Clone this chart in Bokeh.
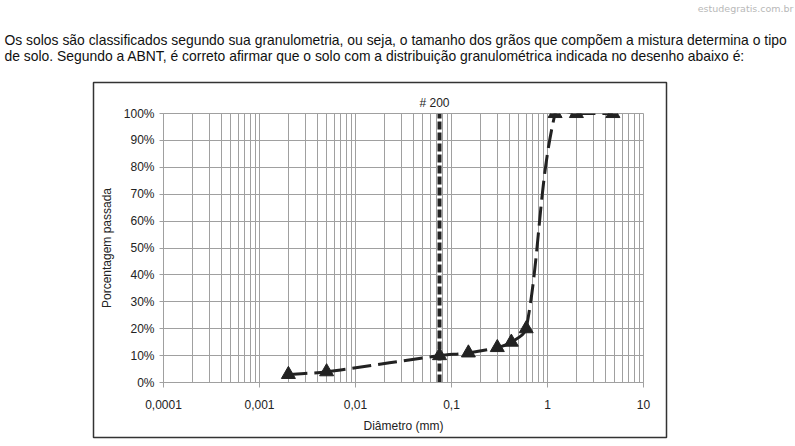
import numpy as np
from bokeh.plotting import figure
from bokeh.layouts import column
from bokeh.models import Range1d, FixedTicker, PrintfTickFormatter
from bokeh.core.properties import value
from bokeh.embed import file_html
from bokeh.resources import INLINE

# ---- data ----
diameter_mm = [0.002, 0.005, 0.075, 0.15, 0.3, 0.42, 0.6, 1.2, 2.0, 4.8]
percent_passing = [3, 4, 10, 11, 13, 15, 20, 100, 100, 100]
sieve_200_mm = 0.075
sieve_200_label = "# 200"
x_ticks = [0.0001, 0.001, 0.01, 0.1, 1, 10]
x_tick_labels = ["0,0001", "0,001", "0,01", "0,1", "1", "10"]
y_ticks = [0, 10, 20, 30, 40, 50, 60, 70, 80, 90, 100]
x_title = "Diâmetro (mm)"
y_title = "Porcentagem passada"
question_lines = [
    "Os solos são classificados segundo sua granulometria, ou seja, o tamanho dos grãos que compõem a mistura determina o tipo",
    "de solo. Segundo a ABNT, é correto afirmar que o solo com a distribuição granulométrica indicada no desenho abaixo é:",
]
watermark = "estudegratis.com.br"

# ---- layout (page pixels) ----
W, H = 795, 446
BOX_L, BOX_R, BOX_T, BOX_B = 93, 666, 82, 437
FL, FR, FT, FB = 163, 643, 113, 382
FONT = "Liberation Sans"
GRID = "#a0a0a0"
INK = "#222222"

# background figure: question text, watermark, chart box
bg = figure(width=W, height=H, x_range=Range1d(0, W), y_range=Range1d(H, 0),
            output_backend="svg", toolbar_location=None, min_border=0,
            x_axis_location=None, y_axis_location=None, frame_align=False)
bg.grid.visible = False
bg.outline_line_color = None
bg.text(x=[4, 4], y=[39, 55], text=question_lines, text_font=value(FONT),
        text_font_size="13.9px", text_color="#111111", text_baseline="middle", text_align="left")
bg.text(x=[793], y=[8], text=[watermark], text_font=value("DejaVu Sans"),
        text_font_size="9.5px", text_color="#b8b8b8", text_baseline="middle", text_align="right")
bg.quad(left=[BOX_L], right=[BOX_R], top=[BOX_T], bottom=[BOX_B],
        fill_color=None, line_color="#333333", line_width=1.5)

# chart figure, overlapping the box
p = figure(width=BOX_R - BOX_L, height=BOX_B - BOX_T, x_axis_type="log",
           x_range=(x_ticks[0], x_ticks[-1]), y_range=(y_ticks[0], y_ticks[-1]),
           output_backend="svg", toolbar_location=None, frame_align=False,
           min_border_left=FL - BOX_L, min_border_right=BOX_R - FR,
           min_border_top=FT - BOX_T, min_border_bottom=BOX_B - FB,
           margin=(BOX_T - H, 0, 0, BOX_L))
p.border_fill_color = None
p.background_fill_color = "white"
p.outline_line_color = GRID

minor = [m * t for t in x_ticks[:-1] for m in range(2, 10)]
p.xaxis.ticker = FixedTicker(ticks=x_ticks, minor_ticks=minor)
p.xaxis.major_label_overrides = {t: s for t, s in zip(x_ticks, x_tick_labels)}
p.yaxis.ticker = FixedTicker(ticks=y_ticks)
p.yaxis.formatter = PrintfTickFormatter(format="%d%%")

for ax in (p.xaxis, p.yaxis):
    ax.axis_line_color = GRID
    ax.major_tick_line_color = GRID
    ax.minor_tick_line_color = None
    ax.major_tick_in = 0
    ax.major_label_text_font = FONT
    ax.major_label_text_font_size = "12px"
    ax.major_label_text_color = INK
    ax.axis_label_text_font = FONT
    ax.axis_label_text_font_size = "12px"
    ax.axis_label_text_font_style = "normal"
    ax.axis_label_text_color = INK
p.xaxis.major_tick_out = 5
p.xaxis.major_label_standoff = 12
p.xaxis.axis_label = x_title
p.xaxis.axis_label_standoff = 7
p.yaxis.major_tick_out = 4
p.yaxis.major_label_standoff = 5
p.yaxis.axis_label = y_title
p.yaxis.axis_label_standoff = 7

p.xgrid.grid_line_color = GRID
p.xgrid.minor_grid_line_color = GRID
p.ygrid.grid_line_color = GRID

# "# 200" label as the chart title, placed over the sieve line
ppd = (FR - FL) / (np.log10(x_ticks[-1]) - np.log10(x_ticks[0]))
ppp = (FB - FT) / (y_ticks[-1] - y_ticks[0])
LABEL_HALF_W = 16
p.title.text = sieve_200_label
p.title.align = "left"
p.title.offset = float((np.log10(sieve_200_mm) - np.log10(x_ticks[0])) * ppd - 4 - LABEL_HALF_W)
p.title.text_font = FONT
p.title.text_font_size = "12px"
p.title.text_font_style = "normal"
p.title.text_color = INK
p.title.standoff = 7

# #200 sieve line
p.segment(x0=[sieve_200_mm], y0=[y_ticks[0]], x1=[sieve_200_mm], y1=[y_ticks[-1]],
          line_color="white", line_width=4)
p.segment(x0=[sieve_200_mm], y0=[y_ticks[0]], x1=[sieve_200_mm], y1=[y_ticks[-1]],
          line_color=INK, line_width=4, line_dash="8 3")

# smoothed curve through the points (bezier in screen-proportional space)
P = np.column_stack([np.log10(diameter_mm) * ppd, np.array(percent_passing, float) * ppp])
n = len(P)
T = []
for i in range(n):
    d = P[min(i + 1, n - 1)] - P[max(i - 1, 0)]
    T.append(d / np.linalg.norm(d))
seg = dict(x0=[], y0=[], x1=[], y1=[], cx0=[], cy0=[], cx1=[], cy1=[])
for i in range(n - 1):
    L = np.linalg.norm(P[i + 1] - P[i]) / 3
    c0 = P[i] + T[i] * L
    c1 = P[i + 1] - T[i + 1] * L
    seg["x0"].append(diameter_mm[i]); seg["y0"].append(percent_passing[i])
    seg["x1"].append(diameter_mm[i + 1]); seg["y1"].append(percent_passing[i + 1])
    seg["cx0"].append(10 ** (c0[0] / ppd)); seg["cy0"].append(c0[1] / ppp)
    seg["cx1"].append(10 ** (c1[0] / ppd)); seg["cy1"].append(c1[1] / ppp)
p.bezier(line_color=INK, line_width=3, line_dash="19 7", **seg)
p.scatter(diameter_mm, percent_passing, marker="triangle", size=14,
          fill_color=INK, line_color=INK)

layout = column(bg, p, margin=0, spacing=0)
open("out.html", "w").write(file_html(layout, INLINE))
